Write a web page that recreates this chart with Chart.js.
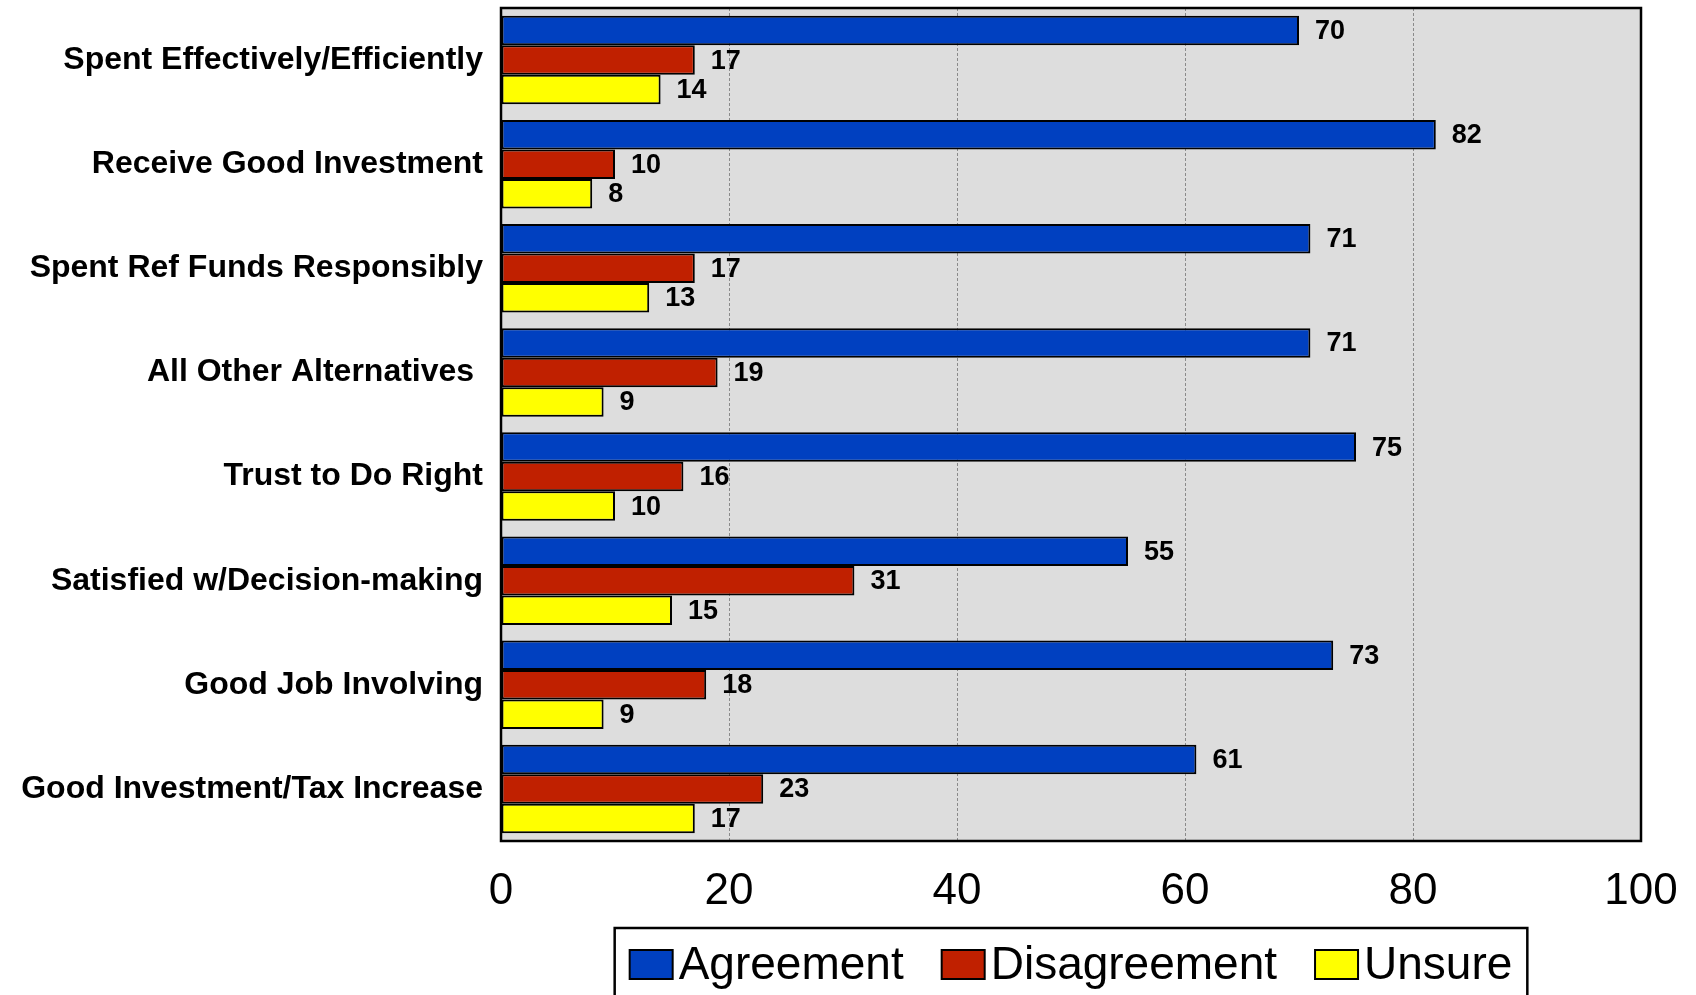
<!DOCTYPE html>
<html>
<head>
<meta charset="utf-8">
<script src="https://cdn.jsdelivr.net/npm/chart.js"></script>
<style>
  html, body { margin: 0; padding: 0; background: #fff; overflow: hidden; }
  #wrap { width: 1696px; height: 995px; position: relative; }
</style>
</head>
<body>
<div id="wrap"><canvas id="surveyChart"></canvas></div>
<script>
// survey categories, top to bottom
const categories = [
  'Spent Effectively/Efficiently',
  'Receive Good Investment',
  'Spent Ref Funds Responsibly',
  'All Other Alternatives ',
  'Trust to Do Right',
  'Satisfied w/Decision-making',
  'Good Job Involving',
  'Good Investment/Tax Increase'
];
const seriesNames = ['Agreement', 'Disagreement', 'Unsure'];
const agreement = [70, 82, 71, 71, 75, 55, 73, 61];
const disagreement = [17, 10, 17, 19, 16, 31, 18, 23];
const unsure = [14, 8, 13, 9, 10, 15, 9, 17];
const xTicks = [0, 20, 40, 60, 80, 100];

const FONT = "'Liberation Sans', Arial, sans-serif";
const colors = ['#0040C0', '#C02000', '#FFFF00'];

// gray plot background
const plotBackground = {
  id: 'plotBackground',
  beforeDraw(chart) {
    const { ctx, chartArea: a } = chart;
    ctx.save();
    ctx.fillStyle = '#DDDDDD';
    ctx.fillRect(a.left, a.top, a.right - a.left, a.bottom - a.top);
    ctx.restore();
  }
};

// black frame + value labels next to bars
const barExtras = {
  id: 'barExtras',
  afterDatasetsDraw(chart) {
    const { ctx, chartArea: a } = chart;
    ctx.save();
    ctx.strokeStyle = '#000';
    ctx.lineWidth = 2.5;
    ctx.strokeRect(a.left, a.top, a.right - a.left, a.bottom - a.top);

    ctx.fillStyle = '#000';
    ctx.font = 'bold 27px ' + FONT;
    ctx.textAlign = 'left';
    ctx.textBaseline = 'middle';
    chart.data.datasets.forEach((ds, i) => {
      chart.getDatasetMeta(i).data.forEach((bar, j) => {
        ctx.fillText(String(ds.data[j]), bar.x + 16, bar.y + 1);
      });
    });
    ctx.restore();
  }
};

// boxed legend under the plot
const boxLegend = {
  id: 'boxLegend',
  afterDraw(chart) {
    const { ctx, chartArea: a } = chart;
    const boxW = 43, boxH = 29, gap = 6, spacing = 38, pad = 15;
    ctx.save();
    ctx.font = '46px ' + FONT;
    const items = chart.data.datasets.map(ds => ({
      label: ds.label,
      color: ds.backgroundColor,
      w: boxW + gap + ctx.measureText(ds.label).width
    }));
    const total = items.reduce((s, it) => s + it.w, 0) + spacing * (items.length - 1);
    const cx = (a.left + a.right) / 2;
    let x = cx - total / 2;
    const top = 928;

    ctx.strokeStyle = '#000';
    ctx.lineWidth = 2.5;
    ctx.strokeRect(x - pad, top, total + pad * 2, 120);

    items.forEach(it => {
      ctx.fillStyle = it.color;
      ctx.fillRect(x, 950, boxW, boxH);
      ctx.lineWidth = 2;
      ctx.strokeRect(x, 950, boxW, boxH);
      ctx.fillStyle = '#000';
      ctx.textAlign = 'left';
      ctx.textBaseline = 'alphabetic';
      ctx.fillText(it.label, x + boxW + gap, 979);
      x += it.w + spacing;
    });
    ctx.restore();
  }
};

const ctx = document.getElementById('surveyChart').getContext('2d');
new Chart(ctx, {
  type: 'bar',
  data: {
    labels: categories,
    datasets: [agreement, disagreement, unsure].map((vals, i) => ({
      label: seriesNames[i],
      data: vals,
      backgroundColor: colors[i],
      borderColor: '#000',
      borderWidth: 2,
      borderSkipped: false,
      categoryPercentage: 0.85,
      barPercentage: 1.0
    }))
  },
  options: {
    indexAxis: 'y',
    responsive: true,
    maintainAspectRatio: false,
    animation: false,
    layout: { padding: { top: 8, right: 55, bottom: 0, left: 0 } },
    scales: {
      x: {
        min: 0,
        max: 100,
        afterFit(scale) {
          scale.height = 154;
          scale.paddingLeft = 0;
          scale.paddingRight = 0;
        },
        afterBuildTicks(scale) { scale.ticks = xTicks.map(v => ({ value: v })); },
        ticks: { color: '#000', font: { family: FONT, size: 44 }, padding: 24, maxRotation: 0 },
        grid: { color: '#8a8a8a', lineWidth: 1, drawTicks: false },
        border: { display: false, dash: [3, 2] }
      },
      y: {
        afterFit(scale) {
          scale.width = 501;
          scale.paddingTop = 0;
          scale.paddingBottom = 0;
        },
        ticks: { color: '#000', font: { family: FONT, size: 32, weight: 'bold' }, padding: 18 },
        grid: { display: false, drawTicks: false },
        border: { display: false }
      }
    },
    plugins: {
      legend: { display: false },
      tooltip: { enabled: false }
    }
  },
  plugins: [plotBackground, barExtras, boxLegend]
});
</script>
</body>
</html>
